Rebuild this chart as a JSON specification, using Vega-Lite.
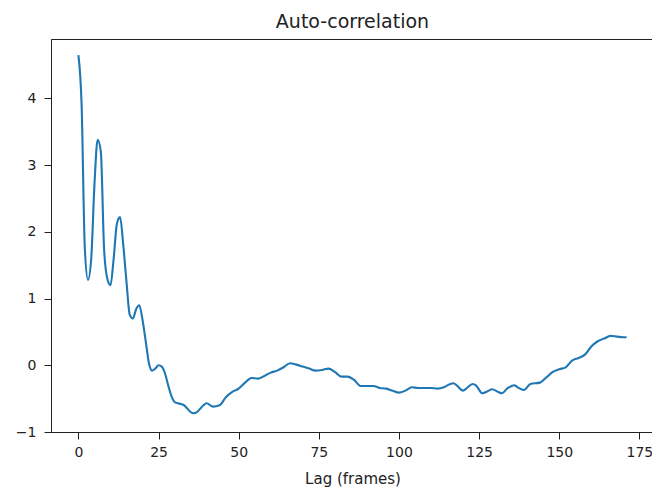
{
  "$schema": "https://vega.github.io/schema/vega-lite/v6.json",
  "autosize": "none",
  "width": 603,
  "height": 393,
  "padding": {"left": 51, "top": 39, "right": 0, "bottom": 57},
  "title": {"text": "Auto-correlation", "font": "DejaVu Sans", "fontSize": 19, "fontWeight": "normal", "color": "#222", "offset": 7},
  "config": {
    "view": {"stroke": "#222", "strokeWidth": 1},
    "axis": {"grid": false, "domainColor": "#222", "tickColor": "#222", "tickSize": 7, "labelFont": "DejaVu Sans", "labelFontSize": 14, "labelColor": "#222", "titleFont": "DejaVu Sans", "titleFontSize": 15, "titleFontWeight": "normal", "titleColor": "#222"}
  },
  "data": {"values": [
    {"lag": 0, "acf": 4.65}, {"lag": 1, "acf": 3.9}, {"lag": 2, "acf": 1.75}, {"lag": 3, "acf": 1.28},
    {"lag": 4, "acf": 1.6}, {"lag": 5, "acf": 2.7}, {"lag": 6, "acf": 3.38}, {"lag": 7, "acf": 3.2},
    {"lag": 8, "acf": 1.75}, {"lag": 9, "acf": 1.3}, {"lag": 10, "acf": 1.2}, {"lag": 11, "acf": 1.6},
    {"lag": 12, "acf": 2.12}, {"lag": 13, "acf": 2.22}, {"lag": 14, "acf": 1.8}, {"lag": 15, "acf": 1.25},
    {"lag": 16, "acf": 0.76}, {"lag": 17, "acf": 0.7}, {"lag": 18, "acf": 0.84}, {"lag": 19, "acf": 0.9},
    {"lag": 20, "acf": 0.68}, {"lag": 21, "acf": 0.36}, {"lag": 22, "acf": 0.03}, {"lag": 23, "acf": -0.08},
    {"lag": 24, "acf": -0.05}, {"lag": 25, "acf": 0.0}, {"lag": 26, "acf": -0.02}, {"lag": 27, "acf": -0.12},
    {"lag": 28, "acf": -0.3}, {"lag": 29, "acf": -0.46}, {"lag": 30, "acf": -0.55}, {"lag": 31, "acf": -0.57},
    {"lag": 32, "acf": -0.58}, {"lag": 33, "acf": -0.6}, {"lag": 34, "acf": -0.65}, {"lag": 35, "acf": -0.7},
    {"lag": 36, "acf": -0.72}, {"lag": 37, "acf": -0.7}, {"lag": 38, "acf": -0.65}, {"lag": 39, "acf": -0.6},
    {"lag": 40, "acf": -0.57}, {"lag": 42, "acf": -0.62}, {"lag": 44, "acf": -0.6}, {"lag": 46, "acf": -0.48},
    {"lag": 48, "acf": -0.4}, {"lag": 50, "acf": -0.35}, {"lag": 52, "acf": -0.26}, {"lag": 54, "acf": -0.19},
    {"lag": 56, "acf": -0.2}, {"lag": 58, "acf": -0.16}, {"lag": 60, "acf": -0.11}, {"lag": 62, "acf": -0.08},
    {"lag": 64, "acf": -0.03}, {"lag": 66, "acf": 0.03}, {"lag": 68, "acf": 0.01}, {"lag": 70, "acf": -0.02},
    {"lag": 72, "acf": -0.05}, {"lag": 74, "acf": -0.08}, {"lag": 76, "acf": -0.07}, {"lag": 78, "acf": -0.05},
    {"lag": 80, "acf": -0.1}, {"lag": 82, "acf": -0.17}, {"lag": 84, "acf": -0.17}, {"lag": 86, "acf": -0.22},
    {"lag": 88, "acf": -0.31}, {"lag": 90, "acf": -0.31}, {"lag": 92, "acf": -0.31}, {"lag": 94, "acf": -0.34},
    {"lag": 96, "acf": -0.35}, {"lag": 98, "acf": -0.38}, {"lag": 100, "acf": -0.41}, {"lag": 102, "acf": -0.38},
    {"lag": 104, "acf": -0.33}, {"lag": 106, "acf": -0.34}, {"lag": 108, "acf": -0.34}, {"lag": 110, "acf": -0.34},
    {"lag": 112, "acf": -0.35}, {"lag": 114, "acf": -0.33}, {"lag": 116, "acf": -0.28}, {"lag": 117, "acf": -0.27},
    {"lag": 118, "acf": -0.3}, {"lag": 120, "acf": -0.38}, {"lag": 121, "acf": -0.35}, {"lag": 123, "acf": -0.28},
    {"lag": 124, "acf": -0.3}, {"lag": 126, "acf": -0.42}, {"lag": 128, "acf": -0.38}, {"lag": 129, "acf": -0.36},
    {"lag": 131, "acf": -0.4}, {"lag": 132, "acf": -0.42}, {"lag": 134, "acf": -0.34}, {"lag": 136, "acf": -0.3},
    {"lag": 137, "acf": -0.33}, {"lag": 139, "acf": -0.37}, {"lag": 141, "acf": -0.28}, {"lag": 144, "acf": -0.26},
    {"lag": 146, "acf": -0.18}, {"lag": 148, "acf": -0.1}, {"lag": 150, "acf": -0.06}, {"lag": 152, "acf": -0.03},
    {"lag": 154, "acf": 0.07}, {"lag": 156, "acf": 0.11}, {"lag": 158, "acf": 0.16}, {"lag": 160, "acf": 0.28},
    {"lag": 162, "acf": 0.36}, {"lag": 164, "acf": 0.4}, {"lag": 166, "acf": 0.44}, {"lag": 168, "acf": 0.43},
    {"lag": 170, "acf": 0.42}, {"lag": 171, "acf": 0.42}
  ]},
  "mark": {"type": "line", "color": "#1f77b4", "strokeWidth": 2.1, "interpolate": "monotone"},
  "encoding": {
    "x": {"field": "lag", "type": "quantitative", "title": "Lag (frames)",
      "scale": {"domain": [-8.55, 179.55], "nice": false, "zero": false},
      "axis": {"values": [0, 25, 50, 75, 100, 125, 150, 175], "labelFlush": false, "labelPadding": 6, "titlePadding": 12}},
    "y": {"field": "acf", "type": "quantitative", "title": null,
      "scale": {"domain": [-1.0, 4.89], "nice": false, "zero": false},
      "axis": {"values": [-1, 0, 1, 2, 3, 4], "labelFlush": false, "labelPadding": 8, "labelExpr": "replace(datum.label, '-', '\u2212')"}}
  }
}
